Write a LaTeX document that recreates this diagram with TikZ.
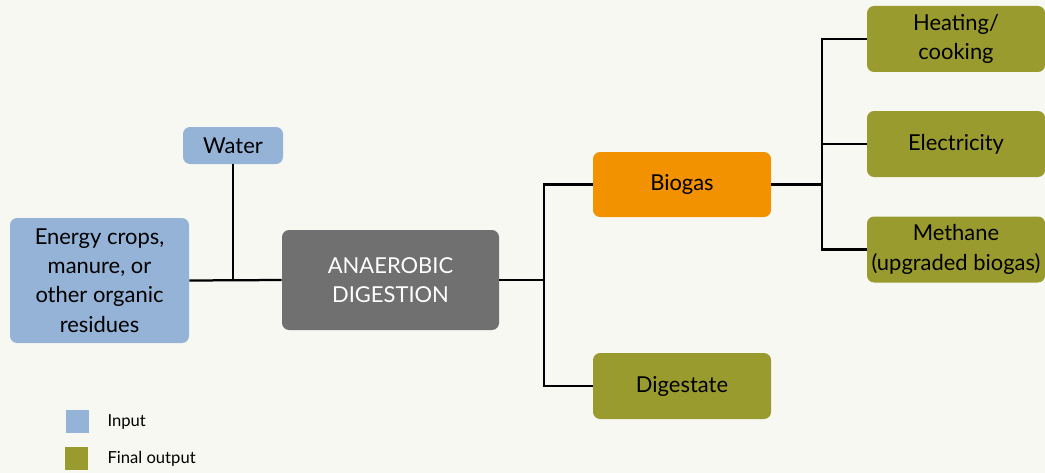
\documentclass[tikz,border=0pt]{standalone}
\usepackage{fontspec}
\setmainfont{Lato}
\usetikzlibrary{positioning}
\definecolor{bg}{HTML}{F8F8F3}
\definecolor{inblue}{HTML}{95B3D7}
\definecolor{outolive}{HTML}{9A9B2E}
\definecolor{gasorange}{HTML}{F39200}
\definecolor{procgray}{HTML}{707070}
\tikzset{
	box/.style={rounded corners=5pt, align=center, inner sep=0pt, font=\fontsize{15.6}{20.8}\selectfont},
	inbox/.style={box, fill=inblue},
	outbox/.style={box, fill=outolive, minimum width=178*0.025cm, minimum height=66*0.025cm},
	keybox/.style={minimum size=23*0.025cm, inner sep=0pt},
	keytext/.style={inner sep=0pt, font=\fontsize{11.8}{13}\selectfont},
	link/.style={line width=1.6pt}
}
\begin{document}
\begin{tikzpicture}[x=0.025cm, y=-0.025cm]
		\fill[bg] (0,0) rectangle (1045,473);
		\useasboundingbox (0,0) rectangle (1045,473);
		\node[inbox, minimum width=179*0.025cm, minimum height=125*0.025cm] (feed) at (99.5,280.5) {Energy crops,\\manure, or\\other organic\\residues};
		\node[inbox, minimum width=100*0.025cm, minimum height=37*0.025cm] (water) at (233,145.5) {Water};
		\node[box, fill=procgray, text=white, minimum width=217*0.025cm, minimum height=100*0.025cm] (ad) at (390.5,280) {ANAEROBIC\\DIGESTION};
		\node[box, fill=gasorange, minimum width=178*0.025cm, minimum height=65*0.025cm] (biogas) at (682,184.5) {Biogas};
		\node[outbox] (digest) at (682,386) {Digestate};
		\node[outbox] (heat) at (956,39) {Heating/\\cooking};
		\node[outbox] (elec) at (956,144) {Electricity};
		\node[outbox] (meth) at (956,249.5) {Methane\\(upgraded biogas)};
		\coordinate (join) at (water.south |- feed.east);
		\draw[link] (feed.east) -- (ad.west);
		\draw[link] (water.south) -- (join);
		\draw[link] (ad.east) -- ++(45,0) |- (biogas.west);
		\draw[link] (ad.east) -- ++(45,0) |- (digest.west);
		\draw[link] (biogas.east) -- ++(51,0) |- (heat.west);
		\draw[link] (biogas.east) -- ++(51,0) |- (elec.west);
		\draw[link] (biogas.east) -- ++(51,0) |- (meth.west);
		% legend
		\node[keybox, fill=inblue] (keyin) at (77.5,421.5) {};
		\node[keybox, fill=outolive] (keyout) at (76.5,458.5) {};
		\node[keytext, right=0.45cm of keyin] (keyintxt) {Input};
		\node[keytext, right=0.475cm of keyout] (keyouttxt) {Final output};
	\end{tikzpicture}
\end{document}
